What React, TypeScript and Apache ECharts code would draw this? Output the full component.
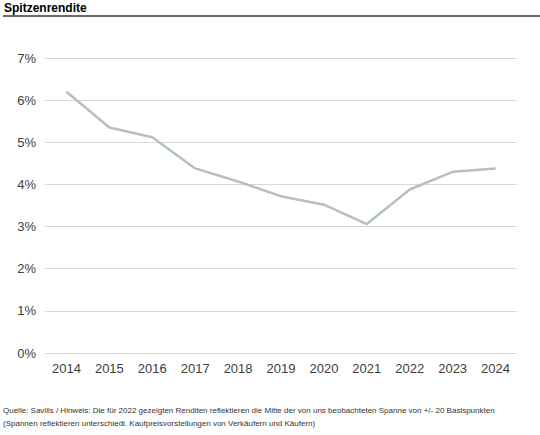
import React, { useRef, useEffect } from 'react';
import * as echarts from 'echarts';

const years = ['2014', '2015', '2016', '2017', '2018', '2019', '2020', '2021', '2022', '2023', '2024'];
const yields = [6.2, 5.35, 5.12, 4.38, 4.07, 3.72, 3.52, 3.06, 3.88, 4.3, 4.38];
const title = 'Spitzenrendite';
const footnoteLines = [
  'Quelle: Savills / Hinweis: Die für 2022 gezeigten Renditen reflektieren die Mitte der von uns beobachteten Spanne von +/- 20 Basispunkten',
  '(Spannen reflektieren unterschiedl. Kaufpreisvorstellungen von Verkäufern und Käufern)',
];

export default function App() {
  const chartRef = useRef<HTMLDivElement>(null);

  useEffect(() => {
    if (!chartRef.current) return;
    const chart = echarts.init(chartRef.current, undefined, { renderer: 'svg' });

    const option: echarts.EChartsOption = {
      animation: false,
      backgroundColor: '#ffffff',
      textStyle: { fontFamily: '"Liberation Sans", Arial, sans-serif' },
      title: {
        text: title,
        left: 4,
        top: 2,
        padding: 0,
        textStyle: { fontSize: 12, fontWeight: 'bold', color: '#000000', fontFamily: '"Liberation Sans", Arial, sans-serif' },
      },
      graphic: [
        {
          type: 'line',
          shape: { x1: 3, y1: 16, x2: 540, y2: 16 },
          style: { stroke: '#6b6b6b', lineWidth: 2 },
        },
        {
          type: 'text',
          left: 3,
          top: 404,
          style: {
            text: footnoteLines.join('\n'),
            fontSize: 8,
            lineHeight: 13,
            fill: '#333333',
            fontFamily: '"Liberation Sans", Arial, sans-serif',
          },
        },
      ],
      grid: { left: 45, right: 23, top: 58, bottom: 82 },
      xAxis: {
        type: 'category',
        data: years,
        boundaryGap: true,
        axisLine: { show: false },
        axisTick: { show: false },
        axisLabel: { color: '#404040', fontSize: 13, margin: 9 },
      },
      yAxis: {
        type: 'value',
        min: 0,
        max: 7,
        interval: 1,
        axisLine: { show: false },
        axisTick: { show: false },
        axisLabel: { color: '#404040', fontSize: 13, margin: 9, formatter: '{value}%' },
        splitLine: { lineStyle: { color: '#d9d9d9', width: 1 } },
      },
      series: [
        {
          type: 'line',
          data: yields,
          symbol: 'none',
          lineStyle: { color: '#b3c4b6', width: 2.5 },
        },
      ],
    };

    chart.setOption(option);
    return () => {
      chart.dispose();
    };
  }, []);

  return (
    <div
      ref={chartRef}
      style={{ position: 'fixed', left: 0, top: 0, width: '540px', height: '435px' }}
    />
  );
}
